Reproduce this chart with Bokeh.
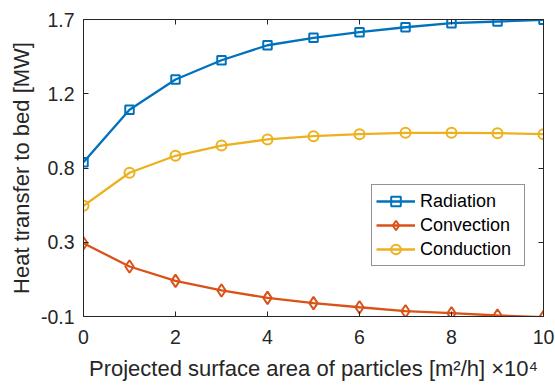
from bokeh.plotting import figure
from bokeh.models import Range1d, FixedTicker, LinearAxis
from bokeh.embed import file_html
from bokeh.resources import INLINE

# ---- data ----
area = [0, 1, 2, 3, 4, 5, 6, 7, 8, 9, 10]
radiation = [0.835, 1.153, 1.336, 1.453, 1.544, 1.589, 1.623, 1.653, 1.678, 1.688, 1.698]
convection = [0.344, 0.203, 0.116, 0.058, 0.013, -0.019, -0.044, -0.068, -0.080, -0.094, -0.104]
conduction = [0.571, 0.771, 0.874, 0.936, 0.973, 0.993, 1.005, 1.013, 1.013, 1.011, 1.005]
x_ticks = [0, 2, 4, 6, 8, 10]
y_ticks = [-0.1, 0.35, 0.8, 1.25, 1.7]
y_tick_labels = ["-0.1", "0.3", "0.8", "1.2", "1.7"]
series_names = ["Radiation", "Convection", "Conduction"]
x_title = "Projected surface area of particles [m\u00b2/h] \u00d710\u2074"
y_title = "Heat transfer to bed [MW]"

BLUE, ORANGE, YELLOW = "#0072BD", "#D95319", "#EDB120"
AX = "#262626"
FONT = "Liberation Sans"

p = figure(width=555, height=385, output_backend="svg", toolbar_location=None,
           x_range=Range1d(0, 10), y_range=Range1d(-0.1, 1.7),
           min_border_left=83, min_border_right=12, min_border_top=19, min_border_bottom=69)
p.xgrid.visible = False
p.ygrid.visible = False
p.outline_line_color = AX
p.outline_line_width = 1
p.background_fill_color = "white"
p.border_fill_color = "white"

def style_axis(ax, ticks, show_labels):
    ax.ticker = FixedTicker(ticks=ticks)
    ax.major_tick_in = 5
    ax.major_tick_out = 0
    ax.minor_tick_line_color = None
    ax.axis_line_color = AX
    ax.major_tick_line_color = AX
    ax.major_label_text_font = FONT
    if show_labels:
        ax.major_label_text_color = AX
        ax.major_label_text_font_size = "19.5px"
    else:
        ax.major_label_text_color = None
        ax.major_label_text_alpha = 0
        ax.major_label_text_font_size = "1px"

style_axis(p.xaxis[0], x_ticks, True)
style_axis(p.yaxis[0], y_ticks, True)
p.xaxis[0].major_label_standoff = 13
p.yaxis[0].major_label_standoff = 9
p.yaxis[0].major_label_overrides = {t: l for t, l in zip(y_ticks, y_tick_labels)}

for ax, title, sd in ((p.yaxis[0], y_title, 4), (p.xaxis[0], x_title, 9)):
    ax.axis_label = title
    ax.axis_label_text_font = FONT
    ax.axis_label_text_font_size = "22px"
    ax.axis_label_text_font_style = "normal"
    ax.axis_label_text_color = AX
    ax.axis_label_standoff = sd

top_ax = LinearAxis()
style_axis(top_ax, x_ticks, False)
top_ax.major_label_standoff = 0
p.add_layout(top_ax, "above")
right_ax = LinearAxis()
style_axis(right_ax, y_ticks, False)
right_ax.major_label_standoff = 0
p.add_layout(right_ax, "right")

specs = [
    (radiation, BLUE, "square", 8.5),
    (convection, ORANGE, "diamond", 12.5),
    (conduction, YELLOW, "circle", 10),
]
for name, (vals, col, mk, sz) in zip(series_names, specs):
    p.line(area, vals, line_color=col, line_width=2.3, legend_label=name)
    p.scatter(area, vals, marker=mk, size=sz, line_color=col, fill_color=None,
              line_width=2, legend_label=name)

lg = p.legend[0]
lg.location = (288, 50)
lg.padding = 4
lg.spacing = 0
lg.margin = 0
lg.label_height = 24
lg.glyph_height = 24
lg.glyph_width = 39
lg.label_standoff = 5
lg.label_width = 100
lg.label_text_font = FONT
lg.label_text_font_size = "18px"
lg.label_text_color = "black"
lg.border_line_color = AX
lg.border_line_width = 1
lg.background_fill_color = "white"
lg.background_fill_alpha = 1

open("out.html", "w").write(file_html(p, INLINE))
